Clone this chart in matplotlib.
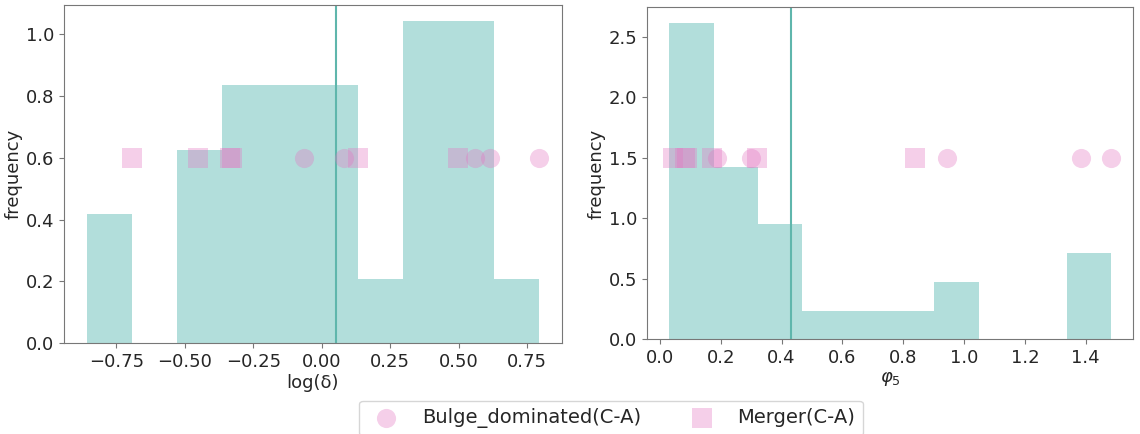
import matplotlib
matplotlib.use("Agg")
import matplotlib.pyplot as plt
import numpy as np

# ---------------- data ----------------
# log(delta) histogram (full sample), 10 equal bins
delta_range = (-0.859, 0.794)
delta_counts = [2, 0, 3, 4, 4, 4, 1, 5, 5, 1]
delta_median = 0.05

# phi_5 histogram (full sample), 10 equal bins
phi_range = (0.031, 1.484)
phi_counts = [11, 6, 4, 1, 1, 1, 2, 0, 0, 3]
phi_median = 0.431

# C-A subsample points
bulge_delta = [-0.064, 0.080, 0.558, 0.613, 0.794]
merger_delta = [-0.695, -0.451, -0.336, -0.329, 0.132, 0.496]
bulge_phi = [0.188, 0.300, 0.945, 1.384, 1.484]
merger_phi = [0.042, 0.082, 0.090, 0.171, 0.318, 0.839]
delta_points_y = 0.6
phi_points_y = 1.5

labels = ["Bulge_dominated(C-A)", "Merger(C-A)"]

# ---------------- style ----------------
hist_color = "#b2dedb"
line_color = "#5fb6ac"
pink = "#e377c2"
pink_alpha = 0.35
msize = 190
fs = 13
text_color = "#262626"
spine_color = "#777777"

fig = plt.figure(figsize=(11.4, 4.34), dpi=100)
ax1 = fig.add_axes([0.0561, 0.209, 0.4368, 0.780])
ax2 = fig.add_axes([0.5678, 0.218, 0.4263, 0.765])


def draw(ax, rng, counts, med, bulge, merger, yp, xlabel):
    edges = np.linspace(rng[0], rng[1], len(counts) + 1)
    centers = 0.5 * (edges[:-1] + edges[1:])
    ax.hist(centers, bins=edges, weights=counts, density=True,
            color=hist_color, zorder=1)
    ax.axvline(med, color=line_color, lw=1.5, zorder=2)
    h1 = ax.scatter(bulge, [yp] * len(bulge), s=msize, marker="o",
                    color=pink, alpha=pink_alpha, linewidths=0, zorder=3)
    h2 = ax.scatter(merger, [yp] * len(merger), s=msize, marker="s",
                    color=pink, alpha=pink_alpha, linewidths=0, zorder=3)
    ax.set_xlabel(xlabel, fontsize=fs, color=text_color, labelpad=2)
    ax.set_ylabel("frequency", fontsize=fs, color=text_color, labelpad=2)
    ax.tick_params(labelsize=fs, colors=text_color)
    ax.tick_params(axis="both", color=spine_color)
    for sp in ax.spines.values():
        sp.set_color(spine_color)
    return h1, h2


h1, h2 = draw(ax1, delta_range, delta_counts, delta_median,
              bulge_delta, merger_delta, delta_points_y, "log(δ)")
ax1.set_xticks([-0.75, -0.5, -0.25, 0.0, 0.25, 0.5, 0.75])
ax1.set_yticks([0.0, 0.2, 0.4, 0.6, 0.8, 1.0])

draw(ax2, phi_range, phi_counts, phi_median,
     bulge_phi, merger_phi, phi_points_y, r"$\varphi_5$")
ax2.set_xticks([0.0, 0.2, 0.4, 0.6, 0.8, 1.0, 1.2, 1.4])
ax2.set_yticks([0.0, 0.5, 1.0, 1.5, 2.0, 2.5])

leg = fig.legend([h1, h2], labels, loc="upper center",
                 bbox_to_anchor=(0.536, 0.077), borderaxespad=0.0,
                 ncol=2, fontsize=14, columnspacing=2.1,
                 handletextpad=0.85, frameon=True)
for t in leg.get_texts():
    t.set_color(text_color)

fig.savefig("out.png", dpi=100)
